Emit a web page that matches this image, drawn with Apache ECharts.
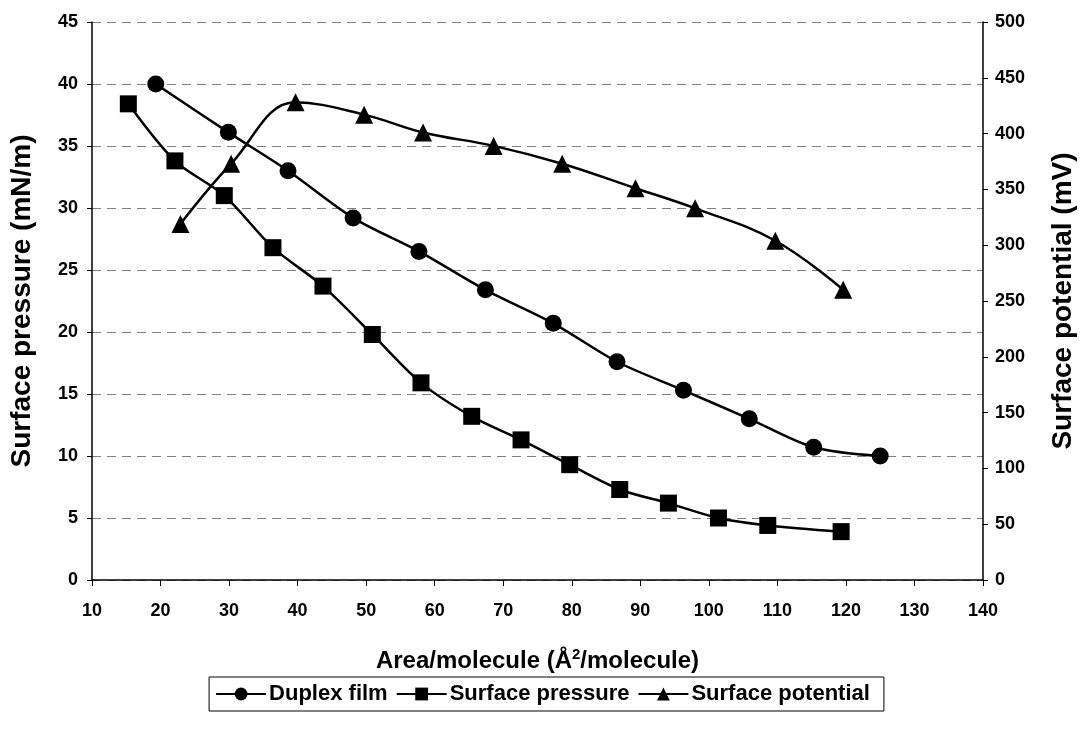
<!DOCTYPE html>
<html>
<head>
<meta charset="utf-8">
<script src="https://cdn.jsdelivr.net/npm/echarts@6/dist/echarts.min.js"></script>
<style>
html,body{margin:0;padding:0;background:#fff;}
#chart{width:1085px;height:737px;}
</style>
</head>
<body>
<div id="chart"></div>
<script>
// Duplex film (left axis, mN/m)
const duplexX = [19.3, 29.9, 38.6, 48.1, 57.7, 67.4, 77.3, 86.6, 96.3, 105.9, 115.3, 125.0];
const duplexY = [40.0, 36.1, 33.0, 29.2, 26.5, 23.4, 20.7, 17.6, 15.3, 13.0, 10.7, 10.0];
// Surface pressure (left axis, mN/m)
const pressureX = [15.3, 22.1, 29.3, 36.4, 43.7, 50.9, 58.0, 65.4, 72.6, 79.7, 87.0, 94.1, 101.4, 108.6, 119.3];
const pressureY = [38.4, 33.8, 31.0, 26.8, 23.7, 19.8, 15.9, 13.2, 11.3, 9.3, 7.3, 6.2, 5.0, 4.4, 3.9];
// Surface potential (right axis, mV)
const potentialX = [22.9, 30.3, 39.7, 49.7, 58.3, 68.6, 78.6, 89.3, 98.0, 109.7, 119.6];
const potentialY = [319, 373, 428, 417, 401, 389, 373, 351, 333, 304, 260];

const seriesNames = ['Duplex film', 'Surface pressure', 'Surface potential'];
const xAxisName = 'Area/molecule (Å{sup|2}/molecule)';
const leftAxisName = 'Surface pressure (mN/m)';
const rightAxisName = 'Surface potential (mV)';

const zip = (xs, ys) => xs.map((x, i) => [x, ys[i]]);
const FONT = '"Liberation Sans", Arial, sans-serif';
const labelStyle = {color: '#000', fontFamily: FONT, fontWeight: 'bold', fontSize: 18};

const chart = echarts.init(document.getElementById('chart'), null, {renderer: 'canvas'});
chart.setOption({
  backgroundColor: '#fff',
  animation: false,
  grid: {left: 89, right: 87, top: 22, bottom: 157, containLabel: false},
  legend: {
    data: seriesNames,
    left: 'center',
    top: 677,
    itemWidth: 50,
    itemHeight: 16,
    itemGap: 8,
    padding: [6, 14, 6, 6],
    borderColor: '#000',
    borderWidth: 1,
    textStyle: {color: '#000', fontFamily: FONT, fontWeight: 'bold', fontSize: 22, padding: [0, 0, 0, -2]}
  },
  xAxis: {
    type: 'value',
    min: 10, max: 140, interval: 10,
    name: xAxisName,
    nameLocation: 'middle',
    nameGap: 67,
    nameTextStyle: {
      color: '#000', fontFamily: FONT, fontWeight: 'bold', fontSize: 24,
      rich: {sup: {fontFamily: FONT, fontWeight: 'bold', fontSize: 15, verticalAlign: 'top', padding: [0, 0, 14, 0], color: '#000'}}
    },
    axisLine: {show: true, onZero: false, lineStyle: {color: '#000', width: 1.5}},
    axisTick: {show: true, inside: false, length: 6, lineStyle: {color: '#000'}},
    axisLabel: Object.assign({margin: 22}, labelStyle),
    splitLine: {show: false}
  },
  yAxis: [
    {
      type: 'value',
      min: 0, max: 45, interval: 5,
      position: 'left',
      name: leftAxisName,
      nameLocation: 'middle',
      nameGap: 56,
      nameTextStyle: {color: '#000', fontFamily: FONT, fontWeight: 'bold', fontSize: 28},
      axisLine: {show: true, lineStyle: {color: '#000', width: 1.5}},
      axisTick: {show: true, inside: false, length: 5, lineStyle: {color: '#000'}},
      axisLabel: Object.assign({margin: 14}, labelStyle),
      splitLine: {show: true, lineStyle: {color: '#808080', type: [9, 6], width: 1}}
    },
    {
      type: 'value',
      min: 0, max: 500, interval: 50,
      position: 'right',
      name: rightAxisName,
      nameLocation: 'middle',
      nameGap: 66,
      nameRotate: 90,
      nameTextStyle: {color: '#000', fontFamily: FONT, fontWeight: 'bold', fontSize: 28},
      axisLine: {show: true, lineStyle: {color: '#000', width: 1.5}},
      axisTick: {show: true, inside: false, length: 5, lineStyle: {color: '#000'}},
      axisLabel: Object.assign({margin: 12}, labelStyle),
      splitLine: {show: false}
    }
  ],
  series: [
    {
      name: seriesNames[0], type: 'line', yAxisIndex: 0,
      data: zip(duplexX, duplexY), smooth: 0.3,
      symbol: 'circle', symbolSize: 17,
      lineStyle: {color: '#000', width: 2.5},
      itemStyle: {color: '#000'}
    },
    {
      name: seriesNames[1], type: 'line', yAxisIndex: 0,
      data: zip(pressureX, pressureY), smooth: 0.3,
      symbol: 'rect', symbolSize: 17,
      lineStyle: {color: '#000', width: 2.5},
      itemStyle: {color: '#000'}
    },
    {
      name: seriesNames[2], type: 'line', yAxisIndex: 1,
      data: zip(potentialX, potentialY), smooth: 0.4,
      symbol: 'triangle', symbolSize: 18,
      lineStyle: {color: '#000', width: 2.5},
      itemStyle: {color: '#000'}
    }
  ]
});
</script>
</body>
</html>
